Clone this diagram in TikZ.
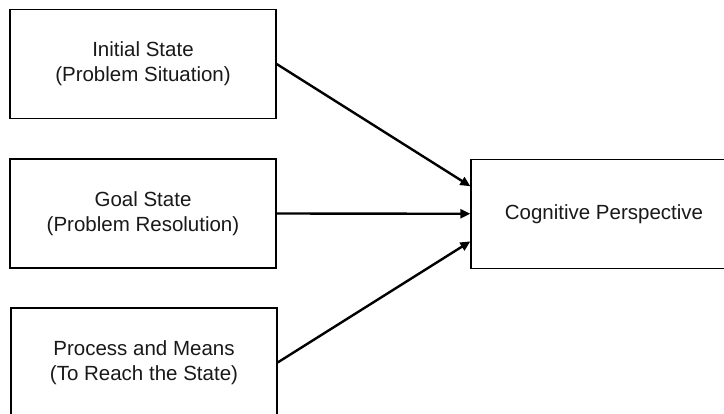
\documentclass[tikz,border=0pt]{standalone}
\usepackage{fontspec}
\setmainfont{Liberation Sans}
\usetikzlibrary{arrows.meta,calc}
\begin{document}
\begin{tikzpicture}[x=1pt,y=-1pt,
  box/.style={draw=black,line width=1.3pt,rectangle,minimum width=266pt,minimum height=109pt,
    align=center,inner sep=0pt,font=\fontsize{20.5}{25}\selectfont,text=black!90},
  link/.style={line width=2.4pt,-{Triangle[length=10pt,width=9pt]}}]
\useasboundingbox[fill=white] (0,0) rectangle (724,414);
% left column: the three components
\node[box] (init) at (143,64) {Initial State\\(Problem Situation)};
\node[box] (goal) at (143,213.5) {Goal State\\(Problem Resolution)};
\node[box] (proc) at (144,362.5) {Process and Means\\(To Reach the State)};
% right: the perspective they feed into
\node[box] (cog) at (604,213.8) {Cognitive Perspective};
\coordinate (inA) at ($(cog.west)!0.5!(cog.north west)$);
\coordinate (inC) at ($(cog.west)!0.5!(cog.south west)$);
% connectors
\draw[link] (init.east) -- (inA);
\draw[link] (goal.east) -- (cog.west);
\draw[link] (proc.east) -- (inC);
\end{tikzpicture}
\end{document}
